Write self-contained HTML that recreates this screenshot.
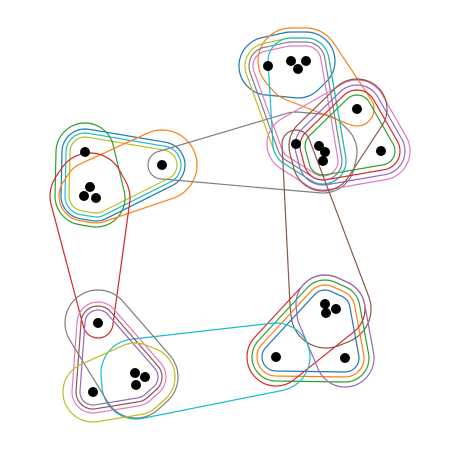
<!DOCTYPE html>
<html><head><meta charset="utf-8"><style>
html,body{margin:0;padding:0;background:#fff;width:460px;height:449px;overflow:hidden}
svg{display:block}
</style></head><body>
<svg id="chart" width="460" height="449" viewBox="0 0 460 449"></svg>
<script>
const nodeX=[85,90,84,96,162, 268,291,306,298, 357,381, 296,319,325,323, 325,336,326,276,345, 98,93,135,145,136];
const nodeY=[152,187,196,198,165, 66,61,61,69, 109,151, 144,146,152,161, 304,309,313,357,358, 323,392,373,377,385];
const edgeMembers=[
 [0,1,2,3,4],[0,1,2,3,4],[0,1,2,3,4],[0,1,2,3],[1,2,3,4],[1,2,3,20],[4,11,12,13,14],
 [5,6,7,8],[6,7,8,9],[5,6,7,8,11,14],[5,6,7,8,11,14],[5,6,7,8,11,14],[6,7,8,11,14],
 [9,10,12,13,14],[9,10,12,13,14],[9,10,12,13,14],[9,10,11,12,13,14],[9,12,13,14],[11,15,16,17],
 [15,16,17,18,19],[15,16,17,18,19],[15,16,17,18,19],[15,16,17,18],[15,16,17,19],[18,22,23,24],
 [20,21,22,23,24],[20,21,22,23,24],[20,21,22,23,24],[20,22,23,24],[21,22,23,24]
];
const edgeColors=['#bcbd22','#17becf','#1f77b4','#2ca02c','#ff7f0e','#d62728','#7f7f7f',
 '#1f77b4','#ff7f0e','#bcbd22','#7f7f7f','#e377c2','#17becf',
 '#2ca02c','#d62728','#9467bd','#e377c2','#8c564b','#8c564b',
 '#1f77b4','#ff7f0e','#2ca02c','#d62728','#9467bd','#17becf',
 '#9467bd','#8c564b','#e377c2','#7f7f7f','#bcbd22'];
const edgePad=[15,19,23,29,25,34,32, 29,33,23,19,15,23, 14,19,24,29,30,35, 14,19,24,29,29,34, 13,17,21,33,30];
const padOverride={4:{4:35},5:{20:15},6:{4:14},8:{9:17},18:{11:14}};

const svg=document.getElementById('chart');
const NS='http://www.w3.org/2000/svg';
function hull(pts){
  pts=pts.slice().sort((a,b)=>a[0]-b[0]||a[1]-b[1]);
  const cr=(o,a,b)=>(a[0]-o[0])*(b[1]-o[1])-(a[1]-o[1])*(b[0]-o[0]);
  const lo=[],up=[];
  for(const p of pts){while(lo.length>=2&&cr(lo[lo.length-2],lo[lo.length-1],p)<=0)lo.pop();lo.push(p);}
  for(let i=pts.length-1;i>=0;i--){const p=pts[i];while(up.length>=2&&cr(up[up.length-2],up[up.length-1],p)<=0)up.pop();up.push(p);}
  up.pop();lo.pop();return lo.concat(up);
}
edgeMembers.forEach((mem,ei)=>{
  const pts=[];
  mem.forEach(n=>{
    const ov=padOverride[ei];
    const r=(ov&&ov[n]!==undefined)?ov[n]:edgePad[ei];
    for(let k=0;k<72;k++){const a=k/72*Math.PI*2;pts.push([nodeX[n]+r*Math.cos(a),nodeY[n]+r*Math.sin(a)]);}
  });
  const h=hull(pts);
  const p=document.createElementNS(NS,'path');
  p.setAttribute('d','M'+h.map(q=>q[0].toFixed(1)+','+q[1].toFixed(1)).join('L')+'Z');
  p.setAttribute('fill','none');p.setAttribute('stroke',edgeColors[ei]);p.setAttribute('stroke-width','1.2');
  
  
  svg.appendChild(p);
});
nodeX.forEach((x,i)=>{
  const c=document.createElementNS(NS,'circle');
  c.setAttribute('cx',x);c.setAttribute('cy',nodeY[i]);c.setAttribute('r','5');c.setAttribute('fill','#000');
  
  
  svg.appendChild(c);
});
</script>
</body></html>
